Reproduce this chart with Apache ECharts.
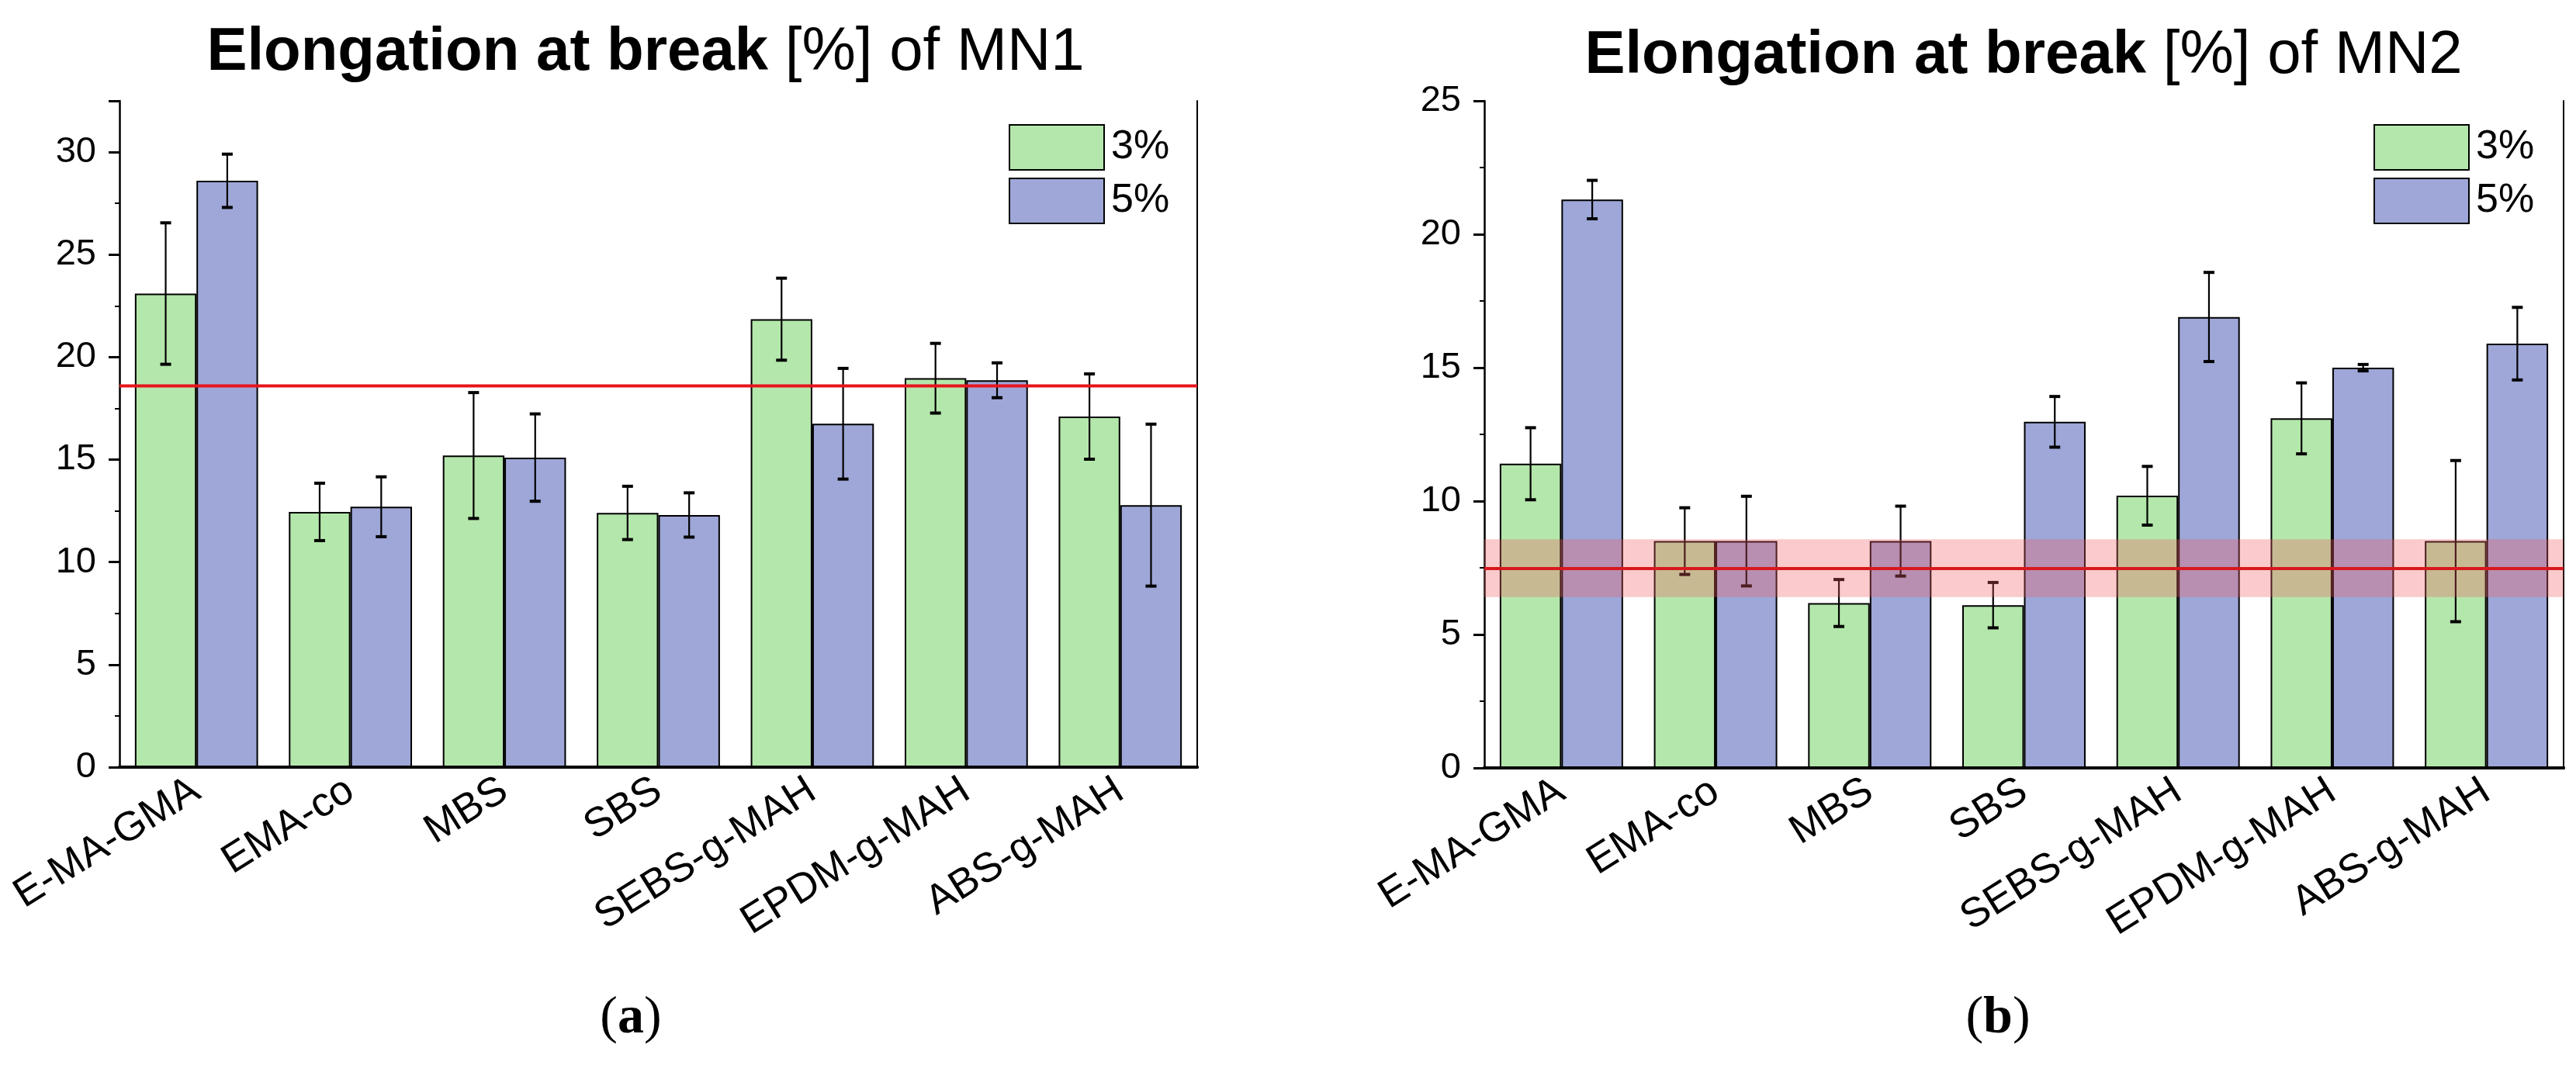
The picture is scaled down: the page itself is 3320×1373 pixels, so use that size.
<!DOCTYPE html>
<html>
<head>
<meta charset="utf-8">
<script src="https://cdn.jsdelivr.net/npm/echarts@6/dist/echarts.min.js"></script>
<style>
html,body{margin:0;padding:0;background:#fff;}
#main{width:3320px;height:1373px;}
</style>
</head>
<body>
<div id="main"></div>
<script>
// ---- data ----
const categories = ['E-MA-GMA', 'EMA-co', 'MBS', 'SBS', 'SEBS-g-MAH', 'EPDM-g-MAH', 'ABS-g-MAH'];
const seriesNames = ['3%', '5%'];

const mn1_3 = [23.1, 12.45, 15.2, 12.4, 21.85, 18.97, 17.1];
const mn1_3_err = [3.45, 1.4, 3.07, 1.3, 2.0, 1.7, 2.08];
const mn1_5 = [28.6, 12.7, 15.1, 12.3, 16.75, 18.87, 12.78];
const mn1_5_err = [1.3, 1.46, 2.13, 1.08, 2.7, 0.85, 3.95];
const mn1_ref = 18.6;

const mn2_3 = [11.4, 8.5, 6.18, 6.1, 10.2, 13.1, 8.5];
const mn2_3_err = [1.35, 1.25, 0.88, 0.85, 1.1, 1.33, 3.02];
const mn2_5 = [21.3, 8.5, 8.5, 12.97, 16.9, 15.0, 15.9];
const mn2_5_err = [0.72, 1.68, 1.31, 0.95, 1.67, 0.12, 1.36];
const mn2_ref = 7.47;
const mn2_ref_band = [6.4, 8.57];

const yTicks1 = {min: 0, max: 32.5, interval: 5};
const yTicks2 = {min: 0, max: 25, interval: 5};

// ---- styles ----
const GREEN = '#b4e7ab';
const BLUE = '#9ea7d8';
const FONT = 'Liberation Sans, Arial, sans-serif';
const SERIF = 'Liberation Serif, serif';

function errData(vals, errs, side) {
  return vals.map((v, i) => [i, v, errs[i], side]);
}

function renderErr(params, api) {
  const ci = api.value(0), v = api.value(1), e = api.value(2), side = api.value(3);
  const bw = api.size([1, 0])[0];
  const c = api.coord([ci, v]);
  const x = c[0] + side * bw * 0.2;
  const yt = api.coord([ci, v + e])[1];
  const yb = api.coord([ci, v - e])[1];
  const cap = 7;
  const st = {stroke: '#000', lineWidth: 2.2};
  const capSt = {stroke: '#000', lineWidth: 4};
  return {
    type: 'group',
    children: [
      {type: 'line', shape: {x1: x, y1: yt, x2: x, y2: yb}, style: st},
      {type: 'line', shape: {x1: x - cap, y1: yt, x2: x + cap, y2: yt}, style: capSt},
      {type: 'line', shape: {x1: x - cap, y1: yb, x2: x + cap, y2: yb}, style: capSt}
    ]
  };
}

// reference line (value at dim 1), optional band (dims 2,3)
function renderRef(color, bandColor) {
  return function (params, api) {
    const cs = params.coordSys;
    const y = api.coord([0, api.value(1)])[1];
    const children = [];
    if (bandColor) {
      const y1 = api.coord([0, api.value(3)])[1];
      const y0 = api.coord([0, api.value(2)])[1];
      children.push({type: 'rect', shape: {x: cs.x, y: y1, width: cs.width, height: y0 - y1},
        style: {fill: bandColor}});
    }
    children.push({type: 'line', shape: {x1: cs.x, y1: y, x2: cs.x + cs.width, y2: y},
      style: {stroke: color, lineWidth: 4}});
    return {type: 'group', children: children};
  };
}

function xAxisFor(gi) {
  return [{
    type: 'category', gridIndex: gi, data: categories, position: 'bottom',
    axisLine: {lineStyle: {color: '#000', width: 4}},
    axisTick: {alignWithLabel: true, length: 17, lineStyle: {color: '#000', width: 2}},
    axisLabel: {rotate: 32, fontSize: 53, color: '#000', fontFamily: FONT, margin: 26, interval: 0},
    splitLine: {show: false}
  }, {
    type: 'category', gridIndex: gi, data: categories, position: 'top',
    axisLine: {lineStyle: {color: '#000', width: 4}},
    axisTick: {show: false}, axisLabel: {show: false}, splitLine: {show: false}
  }];
}

function yAxisFor(gi, t) {
  return [{
    type: 'value', gridIndex: gi, min: t.min, max: t.max, interval: t.interval, position: 'left',
    axisLine: {show: true, lineStyle: {color: '#000', width: 2.5}},
    axisTick: {show: true, length: 14, lineStyle: {color: '#000', width: 3}},
    minorTick: {show: true, splitNumber: 2, length: 6, lineStyle: {color: '#000', width: 2}},
    axisLabel: {fontSize: 47, color: '#000', fontFamily: FONT, margin: 30,
      formatter: v => (v % t.interval === 0 ? String(v) : '')},
    splitLine: {show: false}
  }, {
    type: 'value', gridIndex: gi, min: t.min, max: t.max, interval: t.interval, position: 'right',
    axisLine: {show: true, lineStyle: {color: '#000', width: 2}},
    axisTick: {show: false}, axisLabel: {show: false}, splitLine: {show: false}
  }];
}

function barSeries(name, vals, xi, yi) {
  return {
    name: name, type: 'bar', xAxisIndex: xi, yAxisIndex: yi, data: vals,
    barGap: '0%', barCategoryGap: '20%',
    itemStyle: {color: name === '3%' ? GREEN : BLUE, borderColor: '#000', borderWidth: 2},
    emphasis: {disabled: true}, z: 2
  };
}

function errSeries(vals, errs, side, xi, yi) {
  return {
    type: 'custom', xAxisIndex: xi, yAxisIndex: yi, data: errData(vals, errs, side),
    renderItem: renderErr, z: 4, silent: true
  };
}

const legendStyle = {
  orient: 'vertical', itemWidth: 122, itemHeight: 58, itemGap: 9,
  icon: 'rect', data: seriesNames,
  textStyle: {fontSize: 52, color: '#000', fontFamily: FONT, padding: [0, 0, 0, 4]},
  selectedMode: false
};

function titleRich(size) {
  return {
    fontWeight: 'normal',
    rich: {
      b: {fontSize: size, fontWeight: 'bold', fontFamily: FONT, color: '#000'},
      n: {fontSize: size, fontWeight: 'normal', fontFamily: FONT, color: '#000'}
    }
  };
}
function subRich() {
  return {
    fontWeight: 'normal',
    rich: {
      b: {fontSize: 68, fontWeight: 'bold', fontFamily: SERIF, color: '#000'},
      n: {fontSize: 68, fontWeight: 'normal', fontFamily: SERIF, color: '#000'}
    }
  };
}

const option = {
  backgroundColor: '#fff',
  animation: false,
  title: [
    {text: '{b|Elongation at break}{n| [%] of MN1}', left: 827, top: 24, textAlign: 'center', textStyle: titleRich(78)},
    {text: '{b|Elongation at break}{n| [%] of MN2}', left: 2603, top: 28, textAlign: 'center', textStyle: titleRich(78)},
    {text: '{n|(}{b|a}{n|)}', left: 808, top: 1274, textAlign: 'center', textStyle: subRich()},
    {text: '{n|(}{b|b}{n|)}', left: 2570, top: 1274, textAlign: 'center', textStyle: subRich()}
  ],
  legend: [
    Object.assign({left: 1295, top: 155}, legendStyle),
    Object.assign({left: 3054, top: 155}, legendStyle)
  ],
  grid: [
    {left: 154, right: 1777, top: 130, bottom: 384},
    {left: 1913, right: 16, top: 130, bottom: 383}
  ],
  xAxis: xAxisFor(0).concat(xAxisFor(1)),
  yAxis: yAxisFor(0, yTicks1).concat(yAxisFor(1, yTicks2)),
  series: [
    barSeries('3%', mn1_3, 0, 0),
    barSeries('5%', mn1_5, 0, 0),
    errSeries(mn1_3, mn1_3_err, -1, 0, 0),
    errSeries(mn1_5, mn1_5_err, 1, 0, 0),
    {
      type: 'custom', xAxisIndex: 0, yAxisIndex: 0, z: 8, silent: true,
      data: [[0, mn1_ref]], renderItem: renderRef('#e8141c', null)
    },
    barSeries('3%', mn2_3, 2, 2),
    barSeries('5%', mn2_5, 2, 2),
    errSeries(mn2_3, mn2_3_err, -1, 2, 2),
    errSeries(mn2_5, mn2_5_err, 1, 2, 2),
    {
      type: 'custom', xAxisIndex: 2, yAxisIndex: 2, z: 8, silent: true,
      data: [[0, mn2_ref, mn2_ref_band[0], mn2_ref_band[1]]],
      renderItem: renderRef('#d8181e', 'rgba(238,90,95,0.32)')
    }
  ]
};

const chart = echarts.init(document.getElementById('main'));
chart.setOption(option);
</script>
</body>
</html>
